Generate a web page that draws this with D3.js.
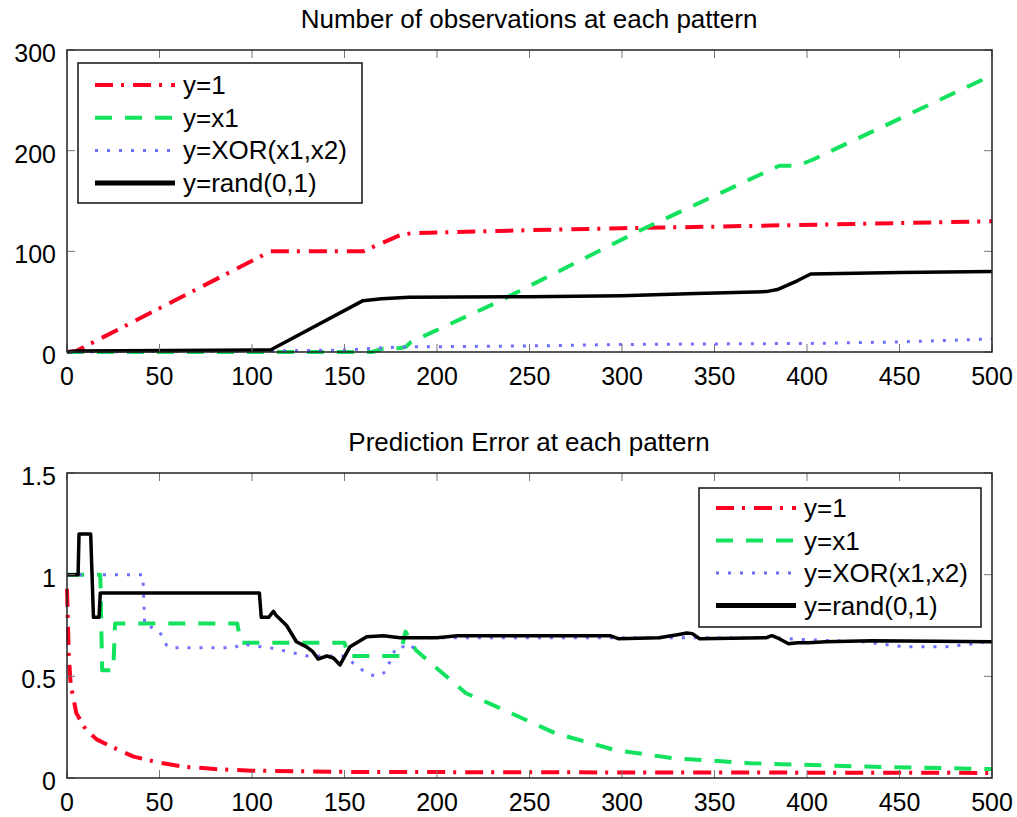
<!DOCTYPE html>
<html>
<head>
<meta charset="utf-8">
<title>Observations and prediction error</title>
<script src="https://cdn.jsdelivr.net/npm/d3@7/dist/d3.min.js"></script>
<style>
	html, body { margin: 0; padding: 0; background: #fff; }
	svg { display: block; font-family: "Liberation Sans", Arial, sans-serif; }
</style>
</head>
<body>
<div id="chart"></div>
<script>
	// series labels, shared by both panels
	const seriesNames = ["y=1", "y=x1", "y=XOR(x1,x2)", "y=rand(0,1)"];
	const xTicks = [0, 50, 100, 150, 200, 250, 300, 350, 400, 450, 500];

	// top panel: number of observations, [pattern, count]
	const obsOne = [[0, 0], [5, 1], [110, 100], [160, 100], [180, 116], [186, 118], [250, 121], [300, 123], [350, 124.5], [390, 126], [450, 128], [500, 130]];
	const obsX1 = [[0, 0], [165, 0], [170, 3], [180, 4], [183, 5], [186, 10], [232, 49], [310, 121], [385, 185], [395, 185], [403, 191], [500, 275]];
	const obsXor = [[0, 0], [110, 1], [150, 2], [180, 5], [250, 6], [300, 7.5], [400, 8.5], [450, 10], [500, 13]];
	const obsRand = [[0, 0], [5, 1], [110, 2], [160, 51], [170, 53], [185, 54.5], [250, 55], [300, 56], [340, 58], [378, 60], [384, 62], [395, 71], [402, 77.5], [450, 79], [500, 80]];
	const obsYTicks = [0, 100, 200, 300];

	// bottom panel: prediction error, [pattern, error]
	const errOne = [[0, 0.93], [1, 0.6], [2, 0.46], [5, 0.32], [10, 0.24], [16, 0.19], [25, 0.15], [36, 0.105], [50, 0.075], [63, 0.056], [80, 0.044], [100, 0.036], [150, 0.03], [250, 0.028], [350, 0.027], [500, 0.025]];
	const errX1 = [[0, 1], [18, 1], [19, 0.53], [25, 0.53], [26, 0.76], [92, 0.76], [94, 0.665], [150, 0.665], [152, 0.6], [180, 0.6], [183, 0.72], [188.5, 0.63], [199, 0.547], [215.7, 0.417], [232.5, 0.35], [264, 0.22], [296, 0.138], [327, 0.098], [369, 0.073], [432, 0.056], [500, 0.044]];
	const errXor = [[0, 1], [41, 1], [42, 0.75], [46, 0.74], [50, 0.72], [54, 0.65], [56, 0.64], [90, 0.64], [95, 0.66], [100, 0.65], [110, 0.64], [120, 0.62], [130, 0.6], [150, 0.6], [156, 0.555], [162, 0.515], [167, 0.5], [172, 0.52], [178, 0.645], [183, 0.645], [186, 0.63], [190, 0.69], [300, 0.69], [380, 0.69], [400, 0.68], [430, 0.67], [453, 0.645], [475, 0.645], [490, 0.66], [500, 0.675]];
	const errRand = [[0, 1], [6, 1], [6.5, 1.2], [12.8, 1.2], [14.3, 0.79], [17.3, 0.79], [18, 0.91], [104, 0.91], [105, 0.79], [109, 0.79], [111.6, 0.82], [113, 0.8], [118.7, 0.75], [124, 0.67], [129.5, 0.645], [133, 0.62], [135.7, 0.585], [140.4, 0.6], [144, 0.59], [147.6, 0.556], [153, 0.646], [162, 0.695], [171, 0.7], [180, 0.69], [200, 0.69], [211, 0.7], [293.5, 0.7], [298, 0.685], [320, 0.69], [330, 0.705], [335, 0.713], [338, 0.71], [342, 0.685], [378, 0.69], [381, 0.7], [385, 0.685], [390, 0.66], [395, 0.665], [401, 0.665], [410, 0.67], [435, 0.675], [470, 0.672], [500, 0.67]];
	const errYTicks = [0, 0.5, 1, 1.5];

	const width = 1017, height = 817;
	const styles = [
		{color: "#ff0022", width: 4, dash: "18,8,3,9"},
		{color: "#12e25e", width: 4, dash: "17,13"},
		{color: "#6f6fff", width: 3, dash: "3,9"},
		{color: "#000", width: 3.5, dash: null}
	];

	const svg = d3.select("#chart").append("svg")
			.attr("width", width)
			.attr("height", height)
			.attr("viewBox", [0, 0, width, height]);

	function panel(opts) {
		const x = d3.scaleLinear([0, 500], [67, 992]);
		const y = d3.scaleLinear(opts.yDomain, [opts.bottom, opts.top]);
		const g = svg.append("g");

		g.append("text")
				.attr("x", 529).attr("y", opts.top - 22)
				.attr("text-anchor", "middle")
				.attr("font-size", 26)
				.text(opts.title);

		const line = d3.line().x(d => x(d[0])).y(d => y(d[1]));
		g.append("g")
				.selectAll("path")
				.data(opts.series)
				.join("path")
				.attr("d", d => line(d))
				.attr("fill", "none")
				.attr("stroke", (d, i) => styles[i].color)
				.attr("stroke-width", (d, i) => styles[i].width)
				.attr("stroke-dasharray", (d, i) => styles[i].dash)
				.attr("stroke-linejoin", "round");

		// inward ticks on all four sides, matlab style
		const tk = 8;
		const ticks = g.append("g").attr("stroke", "#777").attr("stroke-width", 1);
		xTicks.forEach(t => {
			ticks.append("line").attr("x1", x(t)).attr("x2", x(t)).attr("y1", opts.bottom).attr("y2", opts.bottom - tk);
			ticks.append("line").attr("x1", x(t)).attr("x2", x(t)).attr("y1", opts.top).attr("y2", opts.top + tk);
		});
		opts.yTicks.forEach(t => {
			ticks.append("line").attr("x1", 67).attr("x2", 67 + tk).attr("y1", y(t)).attr("y2", y(t));
			ticks.append("line").attr("x1", 992).attr("x2", 992 - tk).attr("y1", y(t)).attr("y2", y(t));
		});

		g.append("rect")
				.attr("x", 67).attr("y", opts.top)
				.attr("width", 925).attr("height", opts.bottom - opts.top)
				.attr("fill", "none").attr("stroke", "#222").attr("stroke-width", 1.5);

		g.append("g")
				.selectAll("text")
				.data(xTicks)
				.join("text")
				.attr("x", d => x(d)).attr("y", opts.bottom + 33)
				.attr("text-anchor", "middle")
				.attr("font-size", 25)
				.text(d => d);

		g.append("g")
				.selectAll("text")
				.data(opts.yTicks)
				.join("text")
				.attr("x", 56).attr("y", d => y(d) + 12)
				.attr("text-anchor", "end")
				.attr("font-size", 25)
				.text(d => d);

		// legend box
		const lg = opts.legend;
		g.append("rect")
				.attr("x", lg.x).attr("y", lg.y)
				.attr("width", lg.w).attr("height", lg.h)
				.attr("fill", "#fff").attr("stroke", "#111").attr("stroke-width", 1.5);
		const rows = g.append("g")
				.selectAll("g")
				.data(seriesNames)
				.join("g")
				.attr("transform", (d, i) => `translate(${lg.x},${lg.y + lg.first + i * lg.step})`);
		rows.append("line")
				.attr("x1", 17).attr("x2", 97)
				.attr("stroke", (d, i) => styles[i].color)
				.attr("stroke-width", (d, i) => i === 3 ? 5 : styles[i].width)
				.attr("stroke-dasharray", (d, i) => styles[i].dash);
		rows.append("text")
				.attr("x", 105).attr("y", 9)
				.attr("font-size", 26)
				.text(d => d);
	}

	panel({
		title: "Number of observations at each pattern",
		top: 50, bottom: 352,
		yDomain: [0, 300], yTicks: obsYTicks,
		series: [obsOne, obsX1, obsXor, obsRand],
		legend: {x: 78, y: 63, w: 284, h: 140, first: 22, step: 32.7}
	});

	panel({
		title: "Prediction Error at each pattern",
		top: 473, bottom: 778,
		yDomain: [0, 1.5], yTicks: errYTicks,
		series: [errOne, errX1, errXor, errRand],
		legend: {x: 699, y: 488, w: 282, h: 139, first: 20, step: 32.5}
	});
</script>
</body>
</html>
